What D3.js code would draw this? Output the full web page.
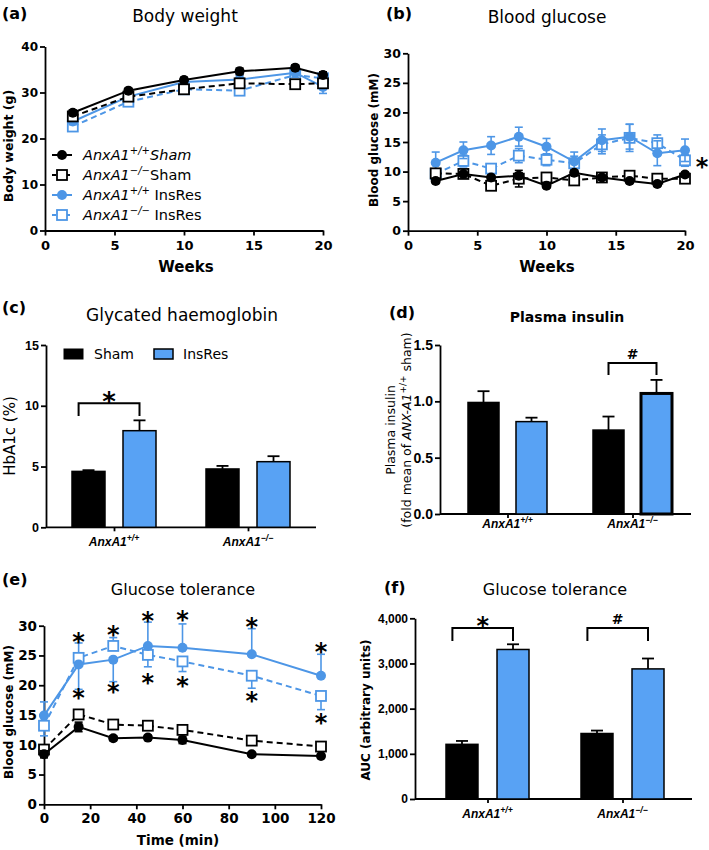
<!DOCTYPE html>
<html><head><meta charset="utf-8">
<script src="https://cdn.jsdelivr.net/npm/d3@7"></script>
<style>body{margin:0;background:#fff} svg{display:block}</style>
</head><body><svg id="c" width="709" height="850"></svg>
<script>
// ---------------- DATA ----------------
// (a) Body weight
const weeksA = [2, 6, 10, 14, 18, 20];
const bwWtSham = [25.6, 30.4, 32.7, 34.6, 35.4, 33.8];
const bwWtShamErr = [0.6, 0.5, 0.6, 0.7, 0.6, 0.7];
const bwKoSham = [24.8, 29.1, 30.7, 32.0, 31.8, 32.0];
const bwKoShamErr = [0.6, 0.6, 0.7, 0.6, 0.8, 0.7];
const bwWtIns = [23.7, 29.1, 32.3, 32.8, 34.3, 31.2];
const bwWtInsErr = [0.7, 0.8, 0.9, 0.9, 1.0, 1.4];
const bwKoIns = [22.6, 28.0, 30.7, 30.4, 33.8, 33.1];
const bwKoInsErr = [0.7, 0.8, 0.9, 0.9, 1.0, 1.0];
const ticksAx = [0, 5, 10, 15, 20];
const ticksAy = [0, 10, 20, 30, 40];

// (b) Blood glucose
const weeksB = [2, 4, 6, 8, 10, 12, 14, 16, 18, 20];
const bgWtSham = [8.4, 9.6, 9.0, 9.3, 7.6, 9.8, 9.0, 8.4, 7.9, 9.5];
const bgWtShamErr = [0.4, 0.4, 0.4, 0.5, 0.4, 0.4, 0.4, 0.4, 0.4, 0.4];
const bgKoSham = [9.7, 9.6, 7.6, 8.8, 9.0, 8.5, 9.0, 9.3, 8.8, 8.8];
const bgKoShamErr = [0.4, 0.4, 0.6, 1.4, 0.5, 0.5, 0.4, 0.4, 0.5, 0.5];
const bgWtIns = [11.5, 13.6, 14.4, 15.9, 14.2, 11.7, 15.3, 15.9, 13.1, 13.6];
const bgWtInsErr = [1.8, 1.4, 1.5, 1.6, 1.4, 1.6, 1.9, 2.1, 2.1, 1.9];
const bgKoIns = [9.6, 11.8, 10.5, 12.7, 12.0, 11.4, 14.6, 15.7, 14.8, 11.9];
const bgKoInsErr = [0.8, 1.0, 0.8, 1.2, 1.0, 1.2, 1.6, 2.3, 1.4, 1.0];
const ticksBx = [0, 5, 10, 15, 20];
const ticksBy = [0, 5, 10, 15, 20, 25, 30];

// Bar charts: genotype categories and conditions
const catBase = "AnxA1";
const catSup = ["+/+", "\u2212/\u2212"];
const conditions = ["Sham", "InsRes"];

// (c) HbA1c (%)
const hbSham = [4.6, 4.8];
const hbShamErr = [0.1, 0.25];
const hbIns = [7.95, 5.4];
const hbInsErr = [0.85, 0.45];
const ticksC = [0, 5, 10, 15];

// (d) Plasma insulin (fold)
const insSham = [0.99, 0.745];
const insShamErr = [0.10, 0.12];
const insIns = [0.82, 1.07];
const insInsErr = [0.035, 0.12];
const ticksD = [0, 0.5, 1.0, 1.5];

// (e) Glucose tolerance time course
const timeE = [0, 15, 30, 45, 60, 90, 120];
const gtWtSham = [8.4, 13.0, 11.1, 11.2, 10.8, 8.4, 8.1];
const gtWtShamErr = [0.6, 0.8, 0.4, 0.4, 0.6, 0.3, 0.3];
const gtKoSham = [9.2, 15.1, 13.4, 13.2, 12.5, 10.7, 9.7];
const gtKoShamErr = [0.6, 0.6, 0.4, 0.4, 0.4, 0.3, 0.3];
const gtWtIns = [14.9, 23.5, 24.3, 26.6, 26.3, 25.2, 21.6];
const gtWtInsErr = [2.3, 4.2, 3.7, 4.0, 4.0, 4.3, 3.6];
const gtWtInsDir = [1, -1, -1, 1, 1, 1, 1];
const gtKoIns = [13.2, 24.6, 26.6, 25.1, 24.0, 21.6, 18.2];
const gtKoInsErr = [1.7, 2.5, 1.4, 2.0, 1.7, 2.1, 2.3];
const gtKoInsDir = [-1, 1, 1, -1, -1, -1, -1];
const starUpE = [28.4, 29.5, 31.9, 32.1, 30.8, 26.6];
const starLowE = [18.9, 19.9, 21.5, 20.9, 18.5, 14.8];
const starTimesE = [15, 30, 45, 60, 90, 120];
const ticksEx = [0, 20, 40, 60, 80, 100, 120];
const ticksEy = [0, 5, 10, 15, 20, 25, 30];

// (f) AUC
const aucSham = [1210, 1450];
const aucShamErr = [75, 65];
const aucIns = [3310, 2880];
const aucInsErr = [115, 230];
const ticksF = [0, 1000, 2000, 3000, 4000];

// ---------------- STYLE ----------------
const BLUE = "#4d96e6";
const BAR_BLUE = "#58a2f4";
const DJ = "DejaVu Sans", LS = "Liberation Sans";
const svg = d3.select("#c");

function txt(g, x, y, s, o = {}) {
  return g.append("text").attr("x", x).attr("y", y).text(s)
    .attr("font-family", o.ff || DJ).attr("font-size", o.fs || 14)
    .attr("font-weight", o.fw || "normal").attr("font-style", o.fi || "normal")
    .attr("text-anchor", o.anchor || "start").attr("fill", "#000");
}
function vtxt(g, x, y, s, o = {}) {
  return g.append("text").attr("transform", `translate(${x},${y}) rotate(-90)`).text(s)
    .attr("font-family", o.ff || DJ).attr("font-size", o.fs || 14)
    .attr("font-weight", o.fw || "normal").attr("text-anchor", "middle").attr("fill", "#000");
}
function star(g, x, y, size, ch = "*") {
  const off = ch === "*" ? 0.6 : 0.36;
  return g.append("text").attr("x", x).attr("y", y + off * size).text(ch)
    .attr("font-family", DJ).attr("font-size", size).attr("font-weight", "bold")
    .attr("text-anchor", "middle").attr("fill", "#000");
}
function styleAxis(a, ff, fs) {
  a.selectAll("path,line").attr("stroke", "#000").attr("stroke-width", 1.8);
  a.selectAll("text").attr("font-family", ff).attr("font-size", fs).attr("font-weight", "bold").attr("fill", "#000");
}

function lineChart(p) {
  const g = svg.append("g");
  const x = d3.scaleLinear().domain(p.xDomain).range([p.left, p.right]);
  const y = d3.scaleLinear().domain(p.yDomain).range([p.bottom, p.top]);
  const ax = g.append("g").attr("transform", `translate(0,${p.bottom})`)
    .call(d3.axisBottom(x).tickValues(p.xTicks).tickSize(5).tickSizeOuter(0).tickPadding(p.xPad || 3));
  const ay = g.append("g").attr("transform", `translate(${p.left},0)`)
    .call(d3.axisLeft(y).tickValues(p.yTicks).tickSize(5).tickSizeOuter(0).tickPadding(2));
  styleAxis(ax, p.tickFF, p.xTickFS);
  styleAxis(ay, p.tickFF, p.yTickFS);
  p.series.forEach(s => {
    const pts = s.x.map((xv, i) => ({ x: xv, y: s.y[i], e: s.err[i], d: s.dir ? s.dir[i] : 0 }));
    g.append("path").attr("d", d3.line().x(d => x(d.x)).y(d => y(d.y))(pts))
      .attr("fill", "none").attr("stroke", s.color).attr("stroke-width", 2)
      .attr("stroke-dasharray", s.filled ? null : "6,4");
    pts.forEach(d => {
      const cx = x(d.x), ends = [];
      if (d.d >= 0) ends.push(y(d.y + d.e));
      if (d.d <= 0) ends.push(y(d.y - d.e));
      ends.forEach(ye => {
        g.append("line").attr("x1", cx).attr("x2", cx).attr("y1", y(d.y)).attr("y2", ye)
          .attr("stroke", s.color).attr("stroke-width", 1.6);
        g.append("line").attr("x1", cx - 4).attr("x2", cx + 4).attr("y1", ye).attr("y2", ye)
          .attr("stroke", s.color).attr("stroke-width", 1.6);
      });
    });
    if (s.filled) {
      g.selectAll(null).data(pts).enter().append("circle")
        .attr("cx", d => x(d.x)).attr("cy", d => y(d.y)).attr("r", 5).attr("fill", s.color);
    } else {
      g.selectAll(null).data(pts).enter().append("rect")
        .attr("x", d => x(d.x) - 5).attr("y", d => y(d.y) - 5).attr("width", 10).attr("height", 10)
        .attr("fill", "#fff").attr("stroke", s.color).attr("stroke-width", 1.8);
    }
  });
  return { g, x, y };
}

function catLabel(g, x, y, sup, fs) {
  const t = g.append("text").attr("x", x).attr("y", y).attr("text-anchor", "middle")
    .attr("font-family", LS).attr("font-size", fs).attr("font-weight", "bold").attr("font-style", "italic").attr("fill", "#000");
  t.append("tspan").text(catBase);
  t.append("tspan").attr("dy", -5).attr("font-size", fs * 0.72).text(sup);
}

function barChart(p) {
  const g = svg.append("g");
  const y = d3.scaleLinear().domain(p.yDomain).range([p.bottom, p.top]);
  const xc = d3.scalePoint().domain(catSup).range([p.c0, p.c1]);
  const inner = d3.scaleBand().domain(conditions).range([-p.pair / 2, p.pair / 2]).paddingInner(p.pad);
  const ay = g.append("g").attr("transform", `translate(${p.left},0)`)
    .call(d3.axisLeft(y).tickValues(p.yTicks).tickSize(5).tickSizeOuter(0).tickPadding(2).tickFormat(p.fmt));
  styleAxis(ay, p.tickFF || LS, p.tickFS);
  const ax = g.append("g").attr("transform", `translate(0,${p.bottom})`)
    .call(d3.axisBottom(xc).tickSize(4).tickSizeOuter(0).tickFormat(""));
  styleAxis(ax, LS, 12);
  ax.select(".domain").attr("d", `M${p.left},0H${p.right}`);
  const vals = { Sham: [p.sham, p.shamErr], InsRes: [p.ins, p.insErr] };
  const bw = inner.bandwidth();
  catSup.forEach((c, i) => {
    conditions.forEach(cond => {
      const v = vals[cond][0][i], e = vals[cond][1][i];
      const bx = xc(c) + inner(cond);
      const thick = p.thick && p.thick[0] === i && p.thick[1] === cond;
      g.append("line").attr("x1", bx + bw / 2).attr("x2", bx + bw / 2).attr("y1", y(v)).attr("y2", y(v + e))
        .attr("stroke", "#000").attr("stroke-width", 1.8);
      g.append("line").attr("x1", bx + bw / 2 - 6).attr("x2", bx + bw / 2 + 6).attr("y1", y(v + e)).attr("y2", y(v + e))
        .attr("stroke", "#000").attr("stroke-width", 1.8);
      g.append("rect").attr("x", bx).attr("y", y(v)).attr("width", bw).attr("height", p.bottom - y(v))
        .attr("fill", cond === "Sham" ? "#000" : BAR_BLUE).attr("stroke", "#000").attr("stroke-width", thick ? 3 : 1.5);
    });
    catLabel(g, xc(c), p.bottom + p.labDy, c, p.catFS);
  });
  (p.brackets || []).forEach(b => {
    const x1 = xc(catSup[b.cat]) + inner("Sham") + bw * p.brL;
    const x2 = xc(catSup[b.cat]) + inner("InsRes") + bw / 2;
    g.append("path").attr("d", `M${x1},${y(b.low)}V${y(b.top)}H${x2}V${y(b.low)}`)
      .attr("fill", "none").attr("stroke", "#000").attr("stroke-width", 2);
    star(g, (x1 + x2) / 2, y(b.top) - b.off, b.size, b.sym);
  });
  return { g, y, xc };
}

// ---------------- PANEL (a) ----------------
const A = lineChart({
  left: 45, right: 323, top: 46.5, bottom: 230.5, xDomain: [0, 20], yDomain: [0, 40],
  xTicks: ticksAx, yTicks: ticksAy, tickFF: DJ, xTickFS: 13, yTickFS: 12, xPad: 5,
  series: [
    { x: weeksA, y: bwKoIns, err: bwKoInsErr, color: BLUE, filled: false },
    { x: weeksA, y: bwWtIns, err: bwWtInsErr, color: BLUE, filled: true },
    { x: weeksA, y: bwKoSham, err: bwKoShamErr, color: "#000", filled: false },
    { x: weeksA, y: bwWtSham, err: bwWtShamErr, color: "#000", filled: true }
  ]
});
txt(svg, 2, 19, "(a)", { fs: 16, fw: "bold" });
txt(svg, 185, 22, "Body weight", { fs: 17, anchor: "middle" });
txt(svg, 186, 272, "Weeks", { fs: 15, fw: "bold", anchor: "middle" });
vtxt(svg, 13, 146, "Body weight (g)", { fs: 12.5, fw: "bold" });

// legend (a)
const legendRows = [
  { sup: "+/+", cond: "Sham", color: "#000", filled: true, condItalic: true, space: false },
  { sup: "\u2212/\u2212", cond: "Sham", color: "#000", filled: false, condItalic: false, space: false },
  { sup: "+/+", cond: "InsRes", color: BLUE, filled: true, condItalic: false, space: true },
  { sup: "\u2212/\u2212", cond: "InsRes", color: BLUE, filled: false, condItalic: false, space: true }
];
const lg = svg.append("g");
legendRows.forEach((r, i) => {
  const yy = 155 + i * 20;
  lg.append("line").attr("x1", 52).attr("x2", 72).attr("y1", yy).attr("y2", yy)
    .attr("stroke", r.color).attr("stroke-width", 2).attr("stroke-dasharray", r.filled ? null : "4,3");
  if (r.filled) lg.append("circle").attr("cx", 62).attr("cy", yy).attr("r", 5).attr("fill", r.color);
  else lg.append("rect").attr("x", 57).attr("y", yy - 5).attr("width", 10).attr("height", 10)
    .attr("fill", "#fff").attr("stroke", r.color).attr("stroke-width", 1.8);
  const t = lg.append("text").attr("x", 83).attr("y", yy + 5).attr("font-family", DJ).attr("font-size", 14.5).attr("fill", "#000");
  t.append("tspan").attr("font-style", "italic").text(catBase);
  t.append("tspan").attr("dy", -6).attr("font-size", 10).attr("font-style", "italic").text(r.sup);
  t.append("tspan").attr("dy", 6).attr("font-style", r.condItalic ? "italic" : "normal").text((r.space ? " " : "") + r.cond);
});

// ---------------- PANEL (b) ----------------
const B = lineChart({
  left: 408, right: 685, top: 53.3, bottom: 230.7, xDomain: [0, 20], yDomain: [0, 30],
  xTicks: ticksBx, yTicks: ticksBy, tickFF: DJ, xTickFS: 13, yTickFS: 12.5, xPad: 5,
  series: [
    { x: weeksB, y: bgKoIns, err: bgKoInsErr, color: BLUE, filled: false },
    { x: weeksB, y: bgWtIns, err: bgWtInsErr, color: BLUE, filled: true },
    { x: weeksB, y: bgKoSham, err: bgKoShamErr, color: "#000", filled: false },
    { x: weeksB, y: bgWtSham, err: bgWtShamErr, color: "#000", filled: true }
  ]
});
txt(svg, 386, 19, "(b)", { fs: 16, fw: "bold" });
txt(svg, 547, 23, "Blood glucose", { fs: 17, anchor: "middle" });
txt(svg, 547, 272, "Weeks", { fs: 15, fw: "bold", anchor: "middle" });
vtxt(svg, 378, 140, "Blood glucose (mM)", { fs: 12, fw: "bold" });
star(svg, B.x(20) + 17, B.y(11.8), 24);

// ---------------- PANEL (c) ----------------
barChart({
  left: 46, right: 316, top: 345, bottom: 527.3, yDomain: [0, 15], yTicks: ticksC, fmt: d3.format("d"),
  c0: 114, c1: 248, pair: 84, pad: 0.353, tickFS: 12.5, catFS: 12, labDy: 19,
  sham: hbSham, shamErr: hbShamErr, ins: hbIns, insErr: hbInsErr, brL: 0.2,
  brackets: [{ cat: 0, top: 10.2, low: 9.15, sym: "*", size: 26, off: 8 }]
});
txt(svg, 2, 313, "(c)", { fs: 16, fw: "bold" });
txt(svg, 182, 321, "Glycated haemoglobin", { fs: 17, anchor: "middle" });
vtxt(svg, 15, 436, "HbA1c (%)", { fs: 15 });
// legend (c)
svg.append("rect").attr("x", 64).attr("y", 349).attr("width", 19).attr("height", 10).attr("fill", "#000").attr("stroke", "#000");
txt(svg, 94, 359, "Sham", { fs: 14 });
svg.append("rect").attr("x", 154).attr("y", 349).attr("width", 19).attr("height", 10).attr("fill", BAR_BLUE).attr("stroke", "#000").attr("stroke-width", 1.5);
txt(svg, 183, 359, "InsRes", { fs: 14 });

// ---------------- PANEL (d) ----------------
barChart({
  left: 440, right: 691, top: 345, bottom: 514, yDomain: [0, 1.5], yTicks: ticksD, fmt: d3.format(".1f"),
  c0: 507.5, c1: 632.5, pair: 79, pad: 0.354, tickFS: 14, catFS: 12, labDy: 14,
  sham: insSham, shamErr: insShamErr, ins: insIns, insErr: insInsErr, brL: 0.5, thick: [1, "InsRes"],
  brackets: [{ cat: 1, top: 1.34, low: 1.233, sym: "#", size: 14, off: 9 }]
});
txt(svg, 389, 318, "(d)", { fs: 16, fw: "bold" });
txt(svg, 567, 322, "Plasma insulin", { fs: 14, fw: "bold", anchor: "middle" });
vtxt(svg, 395, 430, "Plasma insulin", { fs: 12.5 });
{
  const t = svg.append("text").attr("transform", "translate(411,430) rotate(-90)").attr("text-anchor", "middle")
    .attr("font-family", DJ).attr("font-size", 12.5).attr("fill", "#000");
  t.append("tspan").text("(fold mean of ");
  t.append("tspan").attr("font-style", "italic").text("ANX-A1");
  t.append("tspan").attr("dy", -5).attr("font-size", 9).text("+/+");
  t.append("tspan").attr("dy", 5).text(" sham)");
}

// ---------------- PANEL (e) ----------------
const E = lineChart({
  left: 44, right: 321, top: 625.7, bottom: 804.3, xDomain: [0, 120], yDomain: [0, 30],
  xTicks: ticksEx, yTicks: ticksEy, tickFF: DJ, xTickFS: 13.5, yTickFS: 13.5, xPad: 4,
  series: [
    { x: timeE, y: gtKoIns, err: gtKoInsErr, dir: gtKoInsDir, color: BLUE, filled: false },
    { x: timeE, y: gtWtIns, err: gtWtInsErr, dir: gtWtInsDir, color: BLUE, filled: true },
    { x: timeE, y: gtKoSham, err: gtKoShamErr, color: "#000", filled: false },
    { x: timeE, y: gtWtSham, err: gtWtShamErr, color: "#000", filled: true }
  ]
});
starTimesE.forEach((t, i) => {
  star(svg, E.x(t), E.y(starUpE[i]), 24);
  star(svg, E.x(t), E.y(starLowE[i]), 24);
});
txt(svg, 2, 585, "(e)", { fs: 16, fw: "bold" });
txt(svg, 183, 595, "Glucose tolerance", { fs: 16, anchor: "middle" });
txt(svg, 178, 845, "Time (min)", { fs: 13.5, fw: "bold", anchor: "middle" });
vtxt(svg, 13, 712, "Blood glucose (mM)", { fs: 12, fw: "bold" });

// ---------------- PANEL (f) ----------------
barChart({
  left: 415, right: 692, top: 618.3, bottom: 799, yDomain: [0, 4000], yTicks: ticksF, fmt: d3.format(","),
  c0: 487.5, c1: 622.5, pair: 83, pad: 0.373, tickFS: 12, catFS: 12, labDy: 19,
  sham: aucSham, shamErr: aucShamErr, ins: aucIns, insErr: aucInsErr, brL: 0.2,
  brackets: [
    { cat: 0, top: 3785, low: 3497, sym: "*", size: 24, off: 8 },
    { cat: 1, top: 3785, low: 3497, sym: "#", size: 14, off: 9 }
  ]
});
txt(svg, 384, 593, "(f)", { fs: 16, fw: "bold" });
txt(svg, 555, 595, "Glucose tolerance", { fs: 16, anchor: "middle" });
vtxt(svg, 370, 710, "AUC (arbitrary units)", { fs: 12, fw: "bold" });
</script>
</body></html>
